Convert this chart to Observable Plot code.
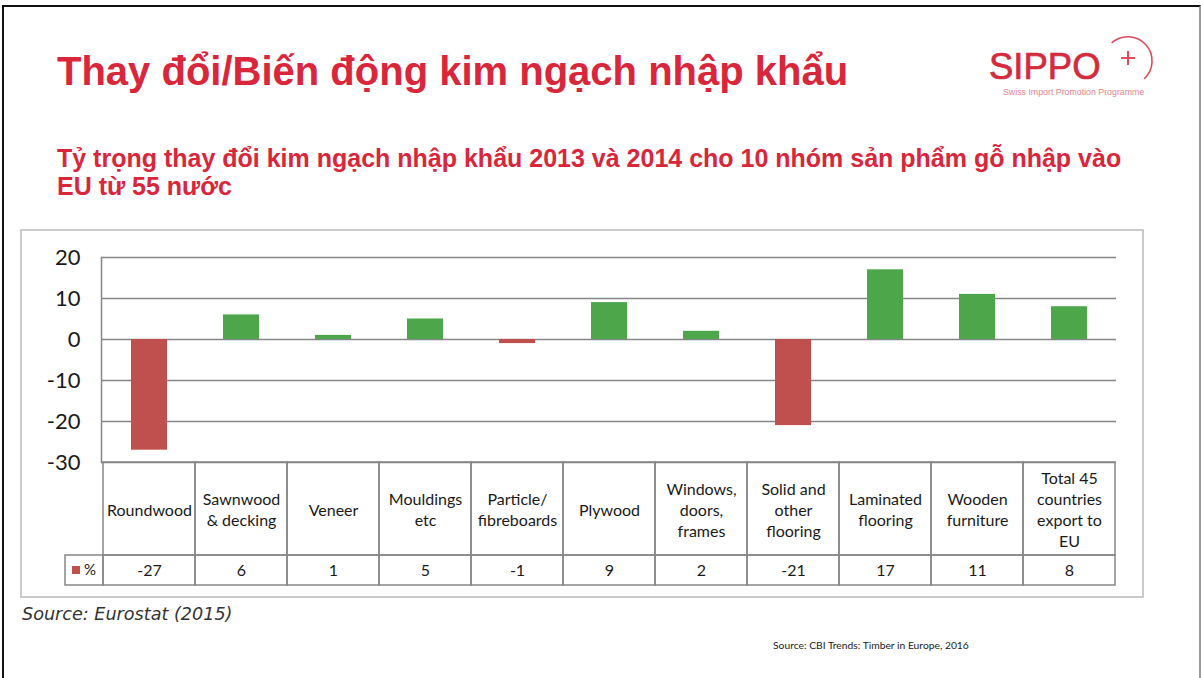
<!DOCTYPE html>
<html><head><meta charset="utf-8">
<script src="https://cdn.jsdelivr.net/npm/d3@7"></script>
<script src="https://cdn.jsdelivr.net/npm/@observablehq/plot@0.6"></script>
<style>
html,body{margin:0;padding:0;background:#fff;}
#slide{position:relative;width:1201px;height:678px;overflow:hidden;background:#fff;font-family:"Liberation Sans",Arial,sans-serif;}
.abs{position:absolute;white-space:nowrap;}
</style></head><body>
<div id="slide">
  <div class="abs" style="left:2px;top:5px;width:1199px;height:700px;box-sizing:border-box;border-left:2px solid #111;border-top:2px solid #111;border-right:2px solid #9a9a9a;"></div>
  <div class="abs" id="title" style="left:57px;top:51px;font-size:40px;line-height:40px;font-weight:bold;color:#d9263b;">Thay đổi/Biến động kim ngạch nhập khẩu</div>
  <div class="abs" id="subtitle" style="left:57px;top:144px;font-size:25px;line-height:28px;font-weight:bold;color:#d9263b;">Tỷ trọng thay đổi kim ngạch nhập khẩu 2013 và 2014 cho 10 nhóm sản phẩm gỗ nhập vào<br>EU từ 55 nước</div>
  <svg class="abs" style="left:0;top:0;" width="1201" height="678">
    <text x="989" y="79" font-family="Liberation Sans, Arial, sans-serif" font-size="36.5" fill="#d42a3c" stroke="#d42a3c" stroke-width="0.7">SIPPO</text>
    <path d="M1111.6,42.9 A23,23 0 1 1 1144,79" fill="none" stroke="#e04c5c" stroke-width="1.6"/>
    <path d="M1128,51 V65 M1121,58 H1135" stroke="#e04c5c" stroke-width="2" fill="none"/>
    <text x="1003" y="94.5" font-family="Liberation Sans, Arial, sans-serif" font-size="8.8" fill="#e8848e">Swiss Import Promotion Programme</text>
  </svg>
  <div class="abs" style="left:20px;top:229px;width:1124px;height:369px;box-sizing:border-box;border:2px solid #cbcbcb;"></div>
  <div class="abs" id="chart" style="left:21px;top:230px;"></div>
  <div class="abs" style="left:22px;top:606px;font-family:'DejaVu Sans',Verdana,sans-serif;font-style:italic;font-size:17.6px;line-height:17px;color:#333;">Source: Eurostat (2015)</div>
  <div class="abs" style="left:773px;top:640px;font-family:Lato,sans-serif;font-size:10.3px;line-height:10px;color:#222;">Source: CBI Trends: Timber in Europe, 2016</div>
</div>
<script>
const categories = ["Roundwood","Sawnwood & decking","Veneer","Mouldings etc","Particle/ fibreboards","Plywood","Windows, doors, frames","Solid and other flooring","Laminated flooring","Wooden furniture","Total 45 countries export to EU"];
const categoryLabels = ["Roundwood","Sawnwood\n& decking","Veneer","Mouldings\netc","Particle/\nfibreboards","Plywood","Windows,\ndoors,\nframes","Solid and\nother\nflooring","Laminated\nflooring","Wooden\nfurniture","Total 45\ncountries\nexport to\nEU"];
const values = [-27, 6, 1, 5, -1, 9, 2, -21, 17, 11, 8];
const yTicks = [20, 10, 0, -10, -20, -30];
const seriesName = "%";

const rows = categories.map((c, i) => ({c, label: categoryLabels[i], v: values[i]}));

const W = 1122, H = 367, mL = 80, mR = 27, mT = 27, mB = 135;
const yMin = -30, yMax = 20;
const pxPerUnit = (H - mB - mT) / (yMax - yMin);
const yAt = px => yMin - px / pxPerUnit;   // position below the axis, in px, as y value
const labelRowH = 93, valueRowH = 30;
const gridColor = "#878787", red = "#c0504d", green = "#4ea64a";

const legendMark = (index, scales) => {
  const x0 = scales.x(categories[0]);
  const yTop = scales.y(yAt(labelRowH)), yBot = scales.y(yAt(labelRowH + valueRowH));
  const g = d3.create("svg:g");
  g.append("rect").attr("x", x0 - 38).attr("y", yTop).attr("width", 38).attr("height", yBot - yTop)
    .attr("fill", "none").attr("stroke", gridColor).attr("stroke-width", 1.5);
  const cy = (yTop + yBot) / 2;
  g.append("rect").attr("x", x0 - 31).attr("y", cy - 4).attr("width", 8).attr("height", 8).attr("fill", red);
  g.append("text").attr("x", x0 - 19).attr("y", cy).attr("dy", "0.35em").attr("text-anchor", "start")
    .attr("font-size", 15).attr("fill", "#1a1a1a").text(seriesName);
  return g.node();
};

const chart = Plot.plot({
  width: W, height: H, marginLeft: mL, marginRight: mR, marginTop: mT, marginBottom: mB,
  style: {fontFamily: "Lato, sans-serif", fontSize: "16px", color: "#1a1a1a", overflow: "visible", background: "transparent"},
  x: {type: "band", domain: categories, padding: 0, axis: null},
  y: {domain: [yMin, yMax], axis: null},
  marks: [
    Plot.ruleY(yTicks, {stroke: gridColor, strokeWidth: 1.5}),
    Plot.barY(rows.filter(d => d.v >= 0), {x: "c", y: "v", fill: green, insetLeft: 28, insetRight: 28}),
    Plot.barY(rows.filter(d => d.v < 0), {x: "c", y: "v", fill: red, insetLeft: 28, insetRight: 28}),
    Plot.frame({anchor: "left", stroke: gridColor, strokeWidth: 1.5}),
    Plot.axisY({ticks: yTicks, tickSize: 0, tickPadding: 21, fontSize: 22, label: null, tickFormat: d => String(d)}),
    Plot.barY(rows, {x: "c", y1: yMin, y2: yAt(labelRowH), fill: "none", stroke: gridColor, strokeWidth: 1.5}),
    Plot.barY(rows, {x: "c", y1: yAt(labelRowH), y2: yAt(labelRowH + valueRowH), fill: "none", stroke: gridColor, strokeWidth: 1.5}),
    Plot.text(rows, {x: "c", y: yAt(labelRowH / 2), text: "label", lineHeight: 1.31, fontSize: 16, fill: "#1a1a1a"}),
    Plot.text(rows, {x: "c", y: yAt(labelRowH + valueRowH / 2), text: d => String(d.v), fontSize: 16, fill: "#1a1a1a"}),
    legendMark
  ]
});
document.getElementById("chart").appendChild(chart);
</script>
</body></html>
